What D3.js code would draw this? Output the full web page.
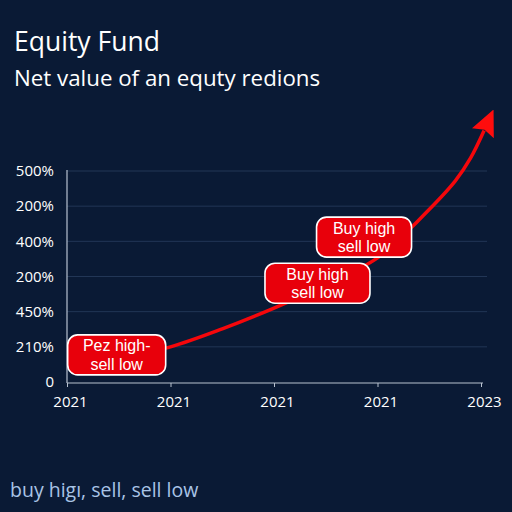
<!DOCTYPE html>
<html>
<head>
<meta charset="utf-8">
<script src="https://cdn.jsdelivr.net/npm/d3@7"></script>
<style>
  body { margin: 0; background: #0a1a35; }
  svg { display: block; font-family: "Open Sans", "DejaVu Sans", sans-serif; }
</style>
</head>
<body>
<div id="chart"></div>
<script>
// tick labels as printed on the chart
const yTickLabels = ['0', '210%', '450%', '200%', '400%', '200%', '500%'];
const xTickLabels = ['2021', '2021', '2021', '2021', '2023'];

// net value curve (x in tick steps, y in tick steps)
const curveX = [0.5, 1.0, 1.5, 2.0, 2.5, 3.0, 3.4, 3.75, 3.9, 4.03];
const curveY = [0.68, 1.0, 1.51, 2.1, 2.76, 3.53, 4.61, 5.71, 6.37, 7.15];

// callouts along the curve
const noteText = [['Pez high-', 'sell low'], ['Buy high', 'sell low'], ['Buy high', 'sell low']];
const noteX = [0.48, 2.42, 2.87];
const noteY = [0.77, 2.81, 4.12];
const noteW = [98, 105, 95];

const width = 512, height = 512;

const svg = d3.select('#chart')
  .append('svg')
  .attr('width', width)
  .attr('height', height);

svg.append('rect')
  .attr('width', width)
  .attr('height', height)
  .attr('fill', '#0a1a35');

// titles
svg.append('text')
  .attr('x', 14).attr('y', 51)
  .attr('fill', '#ffffff')
  .attr('font-size', 26.5)
  .text('Equity Fund');

svg.append('text')
  .attr('x', 14).attr('y', 86)
  .attr('fill', '#ffffff')
  .attr('font-size', 22.3)
  .text('Net value of an equty redions');

let xscale = d3.scaleLinear()
  .domain([0, 4])
  .range([67, 481]);

let yscale = d3.scaleLinear()
  .domain([0, 6])
  .range([382, 171]);

// gridlines
svg.append('g')
  .selectAll('line')
  .data(d3.range(1, yTickLabels.length))
  .enter()
  .append('line')
  .attr('x1', xscale(0))
  .attr('x2', 487)
  .attr('y1', d => yscale(d))
  .attr('y2', d => yscale(d))
  .attr('stroke', '#223656')
  .attr('stroke-width', 1);

// y axis
let leftAxis = d3.axisLeft(yscale)
  .tickValues(d3.range(yTickLabels.length))
  .tickFormat(d => yTickLabels[d])
  .tickSize(0)
  .tickPadding(13);

let yaxis = svg.append('g')
  .attr('transform', `translate(${xscale(0)}, 0)`)
  .call(leftAxis);
yaxis.select('.domain').attr('stroke', '#b8c2d0').attr('stroke-width', 1.2)
  .attr('d', `M0,${yscale(0) + 1}V${yscale(6) - 1}`);
yaxis.selectAll('text')
  .attr('fill', '#ffffff')
  .attr('font-size', 15)
  .attr('font-family', '"Open Sans", sans-serif');

// x axis
let bottomAxis = d3.axisBottom(xscale)
  .tickValues(d3.range(xTickLabels.length))
  .tickFormat(d => xTickLabels[d])
  .tickSize(4)
  .tickPadding(9);

let xaxis = svg.append('g')
  .attr('transform', `translate(0, ${yscale(0) + 1})`)
  .call(bottomAxis);
xaxis.select('.domain').attr('stroke', '#b8c2d0').attr('stroke-width', 1.2)
  .attr('d', `M${xscale(0)},0H${xscale(4) + 2}`);
xaxis.selectAll('.tick line').attr('stroke', '#b8c2d0');
xaxis.selectAll('.tick text').attr('dx', 3);
xaxis.selectAll('text')
  .attr('fill', '#ffffff')
  .attr('font-size', 15)
  .attr('font-family', '"Open Sans", sans-serif');

// arrow head
svg.append('defs')
  .append('marker')
  .attr('id', 'arrow')
  .attr('markerUnits', 'userSpaceOnUse')
  .attr('viewBox', '0 0 26 24')
  .attr('refX', 3)
  .attr('refY', 12)
  .attr('markerWidth', 26)
  .attr('markerHeight', 24)
  .attr('orient', 'auto')
  .append('path')
  .attr('d', 'M0,0L26,12L0,24L4,12Z')
  .attr('fill', '#ff0d0d');

let line = d3.line()
  .x(d => xscale(d[0]))
  .y(d => yscale(d[1]))
  .curve(d3.curveCatmullRom);

svg.append('path')
  .datum(d3.zip(curveX, curveY))
  .attr('d', line)
  .attr('fill', 'none')
  .attr('stroke', '#f5070b')
  .attr('stroke-width', 3.5)
  .attr('marker-end', 'url(#arrow)');

// callout boxes
let notes = svg.selectAll('.note')
  .data(noteText)
  .enter()
  .append('g')
  .attr('class', 'note')
  .attr('transform', (d, i) => `translate(${xscale(noteX[i])}, ${yscale(noteY[i])})`);

notes.append('rect')
  .attr('x', (d, i) => -noteW[i] / 2)
  .attr('y', -20)
  .attr('width', (d, i) => noteW[i])
  .attr('height', 40)
  .attr('rx', 10)
  .attr('fill', '#e8000b')
  .attr('stroke', '#ffffff')
  .attr('stroke-width', 1.6);

// two lines per box, spaced so they do not collide
notes.selectAll('text')
  .data(d => d)
  .enter()
  .append('text')
  .attr('x', 0)
  .attr('y', (d, i) => i === 0 ? -3.5 : 15)
  .attr('text-anchor', 'middle')
  .attr('fill', '#ffffff')
  .attr('font-family', '"Liberation Sans", Arial, sans-serif')
  .attr('font-size', 16)
  .text(d => d);

// footer
svg.append('text')
  .attr('x', 10).attr('y', 497)
  .attr('fill', '#a9c4e6')
  .attr('font-size', 19.5)
  .text('buy higı, sell, sell low');
</script>
</body>
</html>
